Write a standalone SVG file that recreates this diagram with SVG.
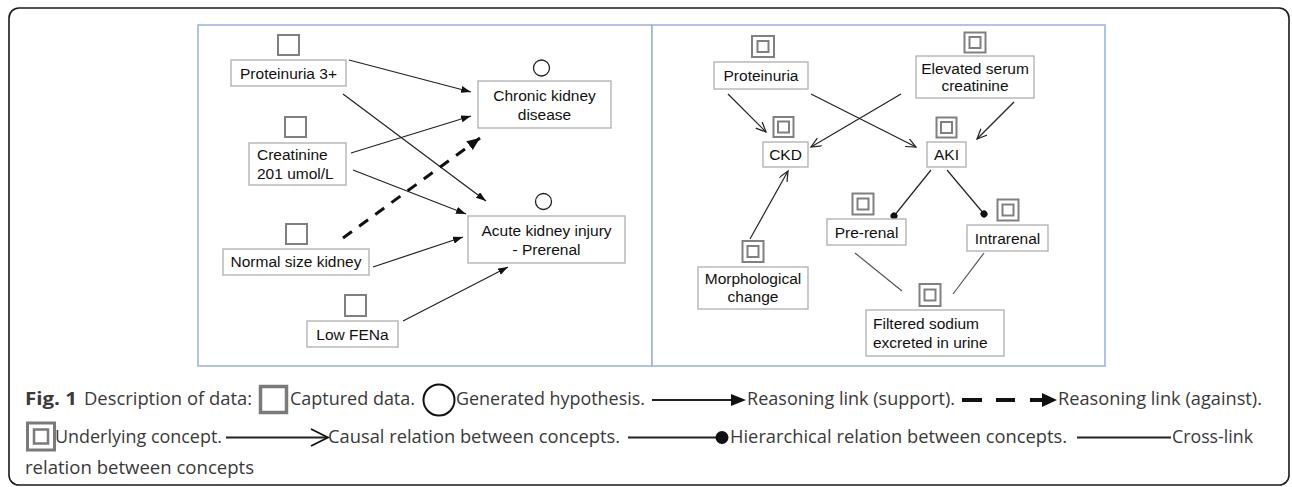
<svg xmlns="http://www.w3.org/2000/svg" width="1292" height="487" viewBox="0 0 1292 487">
<style>
.frame{fill:none;stroke:#1a1a1a;stroke-width:1.6}
.panel{fill:#fff;stroke:#95b3d7;stroke-width:1.5}
.box{fill:#fff;stroke:#b4b4b4;stroke-width:1.4}
.sq{fill:#fff;stroke:#808080;stroke-width:2}
.circ{fill:#fff;stroke:#222;stroke-width:1.3}
.t{font-family:"Liberation Sans",Arial,sans-serif;font-size:15.5px;fill:#111}
.c{text-anchor:middle}
.lk{fill:none;stroke:#222;stroke-width:1.2}
.lk2{fill:none;stroke:#555;stroke-width:1.2}
.dash{fill:none;stroke:#111;stroke-width:3;stroke-dasharray:11 9}
.cap{font-family:"Open Sans","Noto Sans",sans-serif;font-size:18px;fill:#3a3a3a}
.lg{fill:none;stroke:#222;stroke-width:1.8}
</style>
<defs>
<marker id="af" markerUnits="userSpaceOnUse" markerWidth="11" markerHeight="8" refX="10" refY="3.5" orient="auto"><path d="M0,0 L10,3.5 L0,7 z" fill="#111"/></marker>
<marker id="afd" markerUnits="userSpaceOnUse" markerWidth="14" markerHeight="12" refX="13" refY="5.5" orient="auto"><path d="M0,0 L13,5.5 L0,11 z" fill="#111"/></marker>
<marker id="ao" markerUnits="userSpaceOnUse" markerWidth="12" markerHeight="10" refX="10" refY="4.5" orient="auto"><path d="M0,0 L10,4.5 L0,9" fill="none" stroke="#222" stroke-width="1.2"/></marker>
<marker id="dot" markerUnits="userSpaceOnUse" markerWidth="8" markerHeight="8" refX="4" refY="4" orient="auto"><circle cx="4" cy="4" r="3.5" fill="#111"/></marker>
</defs>

<rect class="frame" x="9" y="8" width="1280" height="477" rx="10"/>

<rect id="panel-left" class="panel" x="198" y="25" width="454" height="341"/>
<rect id="panel-right" class="panel" x="652" y="25" width="453" height="341"/>

<g id="connectors">
<line class="lk" x1="349" y1="60" x2="471" y2="92" marker-end="url(#af)"/>
<line class="lk" x1="343" y1="94" x2="486" y2="201" marker-end="url(#af)"/>
<line class="lk" x1="351" y1="153" x2="471" y2="116" marker-end="url(#af)"/>
<line class="lk" x1="353" y1="170" x2="466" y2="214" marker-end="url(#af)"/>
<line class="dash" x1="343" y1="238" x2="480" y2="138" marker-end="url(#afd)"/>
<line class="lk" x1="373" y1="267" x2="463" y2="237" marker-end="url(#af)"/>
<line class="lk" x1="403" y1="321" x2="508" y2="267" marker-end="url(#af)"/>

<line class="lk" x1="728" y1="94" x2="766" y2="132" marker-end="url(#ao)"/>
<line class="lk" x1="811" y1="94" x2="916" y2="147" marker-end="url(#ao)"/>
<line class="lk" x1="901" y1="94" x2="811" y2="147" marker-end="url(#ao)"/>
<line class="lk" x1="1014" y1="102" x2="977" y2="139" marker-end="url(#ao)"/>
<line class="lk" x1="750" y1="239" x2="788" y2="171" marker-end="url(#ao)"/>
<line class="lk" x1="931" y1="170" x2="894" y2="216" marker-end="url(#dot)"/>
<line class="lk" x1="947" y1="170" x2="984" y2="214" marker-end="url(#dot)"/>
<line class="lk2" x1="855" y1="253" x2="902" y2="291"/>
<line class="lk2" x1="984" y1="253" x2="953" y2="294"/>
</g>

<g id="n-proteinuria3">
<rect class="sq" x="278" y="35" width="21" height="20"/>
<rect class="box" x="231" y="60" width="115" height="26"/>
<text class="t c" x="288.5" y="78.5">Proteinuria 3+</text>
</g>
<g id="n-creatinine">
<rect class="sq" x="285" y="117" width="21" height="20"/>
<rect class="box" x="249" y="143" width="97" height="42"/>
<text class="t" x="257" y="160">Creatinine</text>
<text class="t" x="257" y="178.5">201 umol/L</text>
</g>
<g id="n-normalsize">
<rect class="sq" x="286" y="224" width="21" height="20"/>
<rect class="box" x="223" y="249" width="146" height="26"/>
<text class="t c" x="296" y="267">Normal size kidney</text>
</g>
<g id="n-lowfena">
<rect class="sq" x="345" y="295" width="21" height="21"/>
<rect class="box" x="307" y="321" width="91" height="26"/>
<text class="t c" x="352.5" y="340">Low FENa</text>
</g>
<g id="n-ckd-hyp">
<circle class="circ" cx="541.5" cy="68" r="8"/>
<rect class="box" x="478" y="81" width="133" height="47"/>
<text class="t c" x="544.5" y="100.5">Chronic kidney</text>
<text class="t c" x="544.5" y="119.5">disease</text>
</g>
<g id="n-aki-hyp">
<circle class="circ" cx="543.5" cy="201.5" r="8"/>
<rect class="box" x="468" y="216" width="157" height="47"/>
<text class="t c" x="546.5" y="235.5">Acute kidney injury</text>
<text class="t c" x="546.5" y="255">- Prerenal</text>
</g>

<g id="c-proteinuria">
<rect class="sq" x="752" y="36" width="22" height="21"/>
<rect class="sq" x="757.5" y="41" width="11" height="11"/>
<rect class="box" x="714" y="62" width="94" height="27"/>
<text class="t c" x="761" y="81">Proteinuria</text>
</g>
<g id="c-elevated">
<rect class="sq" x="964.5" y="32.5" width="21" height="20"/>
<rect class="sq" x="969.5" y="37" width="11" height="11"/>
<rect class="box" x="916" y="56" width="118" height="42"/>
<text class="t c" x="975" y="73.5">Elevated serum</text>
<text class="t c" x="975" y="91">creatinine</text>
</g>
<g id="c-ckd">
<rect class="sq" x="773.5" y="117" width="20" height="20"/>
<rect class="sq" x="778" y="121.5" width="11" height="11"/>
<rect class="box" x="763" y="142" width="45" height="25"/>
<text class="t c" x="785.5" y="159.5">CKD</text>
</g>
<g id="c-aki">
<rect class="sq" x="936.5" y="117.5" width="20" height="20"/>
<rect class="sq" x="941" y="122" width="11" height="11"/>
<rect class="box" x="927" y="142" width="39" height="25"/>
<text class="t c" x="946.5" y="159.5">AKI</text>
</g>
<g id="c-prerenal">
<rect class="sq" x="852.5" y="193.5" width="21" height="21"/>
<rect class="sq" x="857.5" y="198.5" width="11" height="11"/>
<rect class="box" x="827" y="219" width="79" height="26"/>
<text class="t c" x="866.5" y="237.5">Pre-renal</text>
</g>
<g id="c-intrarenal">
<rect class="sq" x="997.5" y="199.5" width="21" height="21"/>
<rect class="sq" x="1002.5" y="204.5" width="11" height="11"/>
<rect class="box" x="967" y="225" width="81" height="26"/>
<text class="t c" x="1007.5" y="243.5">Intrarenal</text>
</g>
<g id="c-morph">
<rect class="sq" x="742.5" y="241" width="21" height="21"/>
<rect class="sq" x="747.5" y="246" width="11" height="11"/>
<rect class="box" x="698" y="267" width="110" height="42"/>
<text class="t c" x="753" y="283.5">Morphological</text>
<text class="t c" x="753" y="301.5">change</text>
</g>
<g id="c-filtered">
<rect class="sq" x="919.5" y="284" width="21" height="22"/>
<rect class="sq" x="924.5" y="289.5" width="11" height="11"/>
<rect class="box" x="866" y="310" width="138" height="46"/>
<text class="t" x="873" y="328.5">Filtered sodium</text>
<text class="t" x="873" y="347.5">excreted in urine</text>
</g>

<g id="caption">
<text class="cap" x="25" y="405" font-weight="bold" fill="#222" textLength="52" lengthAdjust="spacingAndGlyphs">Fig. 1</text>
<text class="cap" x="84" y="405" textLength="168" lengthAdjust="spacingAndGlyphs">Description of data:</text>
<rect x="260.5" y="386.5" width="26" height="26" fill="#fff" stroke="#7a7a7a" stroke-width="3.5"/>
<text class="cap" x="290" y="405" textLength="125" lengthAdjust="spacingAndGlyphs">Captured data.</text>
<circle cx="439" cy="400" r="15.5" fill="none" stroke="#111" stroke-width="2"/>
<text class="cap" x="456" y="405" textLength="189" lengthAdjust="spacingAndGlyphs">Generated hypothesis.</text>
<line class="lg" x1="652" y1="400" x2="733" y2="400"/>
<path d="M731,394 L746,400 L731,406 z" fill="#111"/>
<text class="cap" x="747" y="405" textLength="208" lengthAdjust="spacingAndGlyphs">Reasoning link (support).</text>
<path d="M962,400 H982 M996,400 H1015 M1030,400 H1044" stroke="#111" stroke-width="4" fill="none"/>
<path d="M1042,393 L1057,400 L1042,407 z" fill="#111"/>
<text class="cap" x="1058" y="405" textLength="204" lengthAdjust="spacingAndGlyphs">Reasoning link (against).</text>

<rect x="27.5" y="423" width="27" height="27" fill="#fff" stroke="#7a7a7a" stroke-width="3"/>
<rect x="34" y="429.5" width="14" height="14" fill="#fff" stroke="#7a7a7a" stroke-width="2.5"/>
<text class="cap" x="55" y="443" textLength="167" lengthAdjust="spacingAndGlyphs">Underlying concept.</text>
<line class="lg" x1="226" y1="437.5" x2="327" y2="437.5"/>
<path d="M311,429 L328,437.5 L311,446" fill="none" stroke="#111" stroke-width="1.8"/>
<text class="cap" x="328" y="443" textLength="292" lengthAdjust="spacingAndGlyphs">Causal relation between concepts.</text>
<line class="lg" x1="628" y1="437.5" x2="718" y2="437.5"/>
<circle cx="722" cy="437.5" r="6.5" fill="#111"/>
<text class="cap" x="730" y="443" textLength="337" lengthAdjust="spacingAndGlyphs">Hierarchical relation between concepts.</text>
<line class="lg" x1="1077" y1="437.5" x2="1171" y2="437.5"/>
<text class="cap" x="1172" y="443" textLength="81" lengthAdjust="spacingAndGlyphs">Cross-link</text>
<text class="cap" x="25" y="474" textLength="229" lengthAdjust="spacingAndGlyphs">relation between concepts</text>
</g>
</svg>
